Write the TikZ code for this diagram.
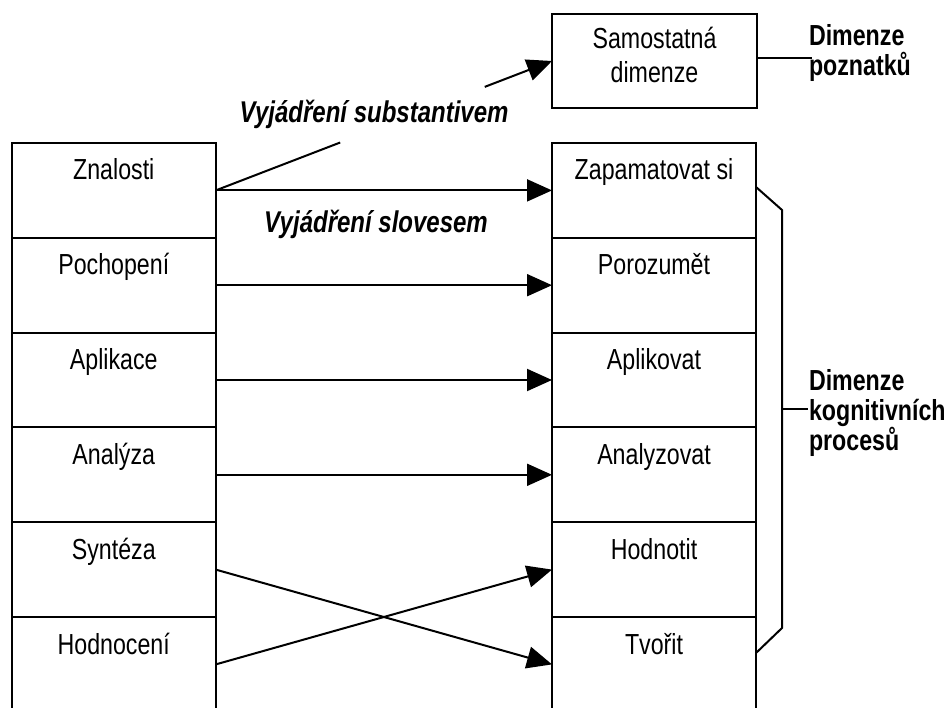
\documentclass[tikz,border=0pt]{standalone}
\usepackage{fontspec}
\setmainfont{Liberation Sans}[FakeStretch=0.8]
\usetikzlibrary{arrows.meta,calc}
\begin{document}
\begin{tikzpicture}[x=1pt,y=-1pt,
  every node/.style={inner sep=0pt, outer sep=0pt, font=\fontsize{29}{30}\selectfont},
  cell/.style={minimum width=204pt, minimum height=94.8pt, text height=37pt, text depth=57.8pt},
  frame/.style={line width=2pt},
  conn/.style={line width=2pt},
  arr/.style={conn, -{Triangle[length=25pt,width=22pt]}},
  lab/.style={font=\fontsize{29}{30}\selectfont\bfseries, align=left},
  via/.style={font=\fontsize{30}{30}\selectfont\bfseries\itshape}]

\fill[white] (0,0) rectangle (949,708);
\useasboundingbox (0,0) rectangle (949,708);

% two columns of levels: nouns on the left, verbs on the right
\foreach \t [count=\i] in {Znalosti,Pochopení,Aplikace,Analýza,Syntéza,Hodnocení}
  \node[cell] (l\i) at (113.75,{190.4+(\i-1)*94.8}) {\t};
\foreach \t [count=\i] in {Zapamatovat si,Porozumět,Aplikovat,Analyzovat,Hodnotit,Tvořit}
  \node[cell] (r\i) at (654,{190.4+(\i-1)*94.8}) {\t};

% column outlines, open at the bottom
\foreach \c in {l,r} {
  \draw[frame] (\c6.south west) -- (\c1.north west) -- (\c1.north east) -- (\c6.south east);
  \foreach \i in {1,...,5}
    \draw[frame] (\c\i.south west) -- (\c\i.south east);
}

% level-to-level arrows
\foreach \i in {1,...,4}
  \draw[arr] (l\i.east) -- (r\i.west);
\draw[arr] (l5.east) -- (r6.west);
\draw[arr] (l6.east) -- (r5.west);

% separate knowledge dimension
\node[draw, frame, minimum width=205pt, minimum height=94pt] (samo) at (654.5,61) {};
\node[align=center, anchor=north, font=\fontsize{29}{34}\selectfont] (samotext) at (654.5,27) {Samostatná\\dimenze};

\draw[conn] (l1.east) -- ($(l1.east)!0.37!(samo.west)$);
\draw[arr] ($(l1.east)!0.80!(samo.west)$) -- (samo.west);

\node[via, anchor=base] (subst) at (374,123) {Vyjádření substantivem};
\node[via, anchor=base] (sloves) at (376,233) {Vyjádření slovesem};

% dimension labels
\node[lab, anchor=north west] (dimpoz) at (809,24) {Dimenze\\poznatků};
\coordinate (pk) at (812,58);
\draw[conn] (samo.east |- pk) -- (pk);

\coordinate (b1) at (756,187);
\coordinate (b2) at (782,210);
\coordinate (b3) at (782,628);
\coordinate (b4) at (756,653);
\draw[conn] (b1) -- (b2) -- (b3) -- (b4);
\coordinate (bk) at (782,409);
\coordinate (kk) at (808,409);
\draw[conn] (bk) -- (kk);
\node[lab, anchor=north west] (dimkog) at (809,369) {Dimenze\\kognitivních\\procesů};
\end{tikzpicture}
\end{document}
